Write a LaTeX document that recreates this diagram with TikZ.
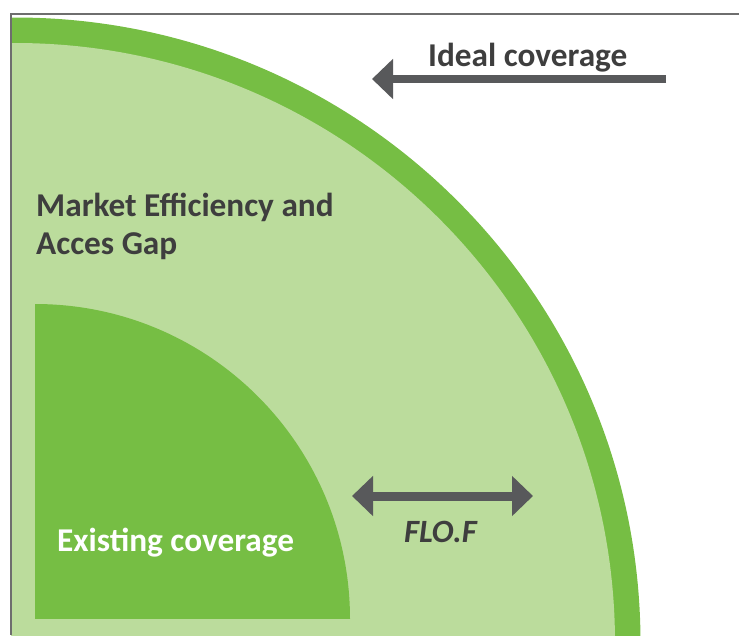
\documentclass[tikz,border=0pt]{standalone}
\usepackage{fontspec}
\newfontfamily\cf{Carlito}
\usetikzlibrary{arrows.meta}
\definecolor{dkgreen}{RGB}{118,190,68}
\definecolor{ltgreen}{RGB}{187,220,156}
\definecolor{arrowgray}{RGB}{88,89,91}
\definecolor{txtgray}{RGB}{62,62,62}
\definecolor{framegray}{RGB}{110,110,110}
\tikzset{
  lbl/.style={anchor=base west, inner sep=0pt, font=\cf\bfseries\fontsize{33.3}{38}\selectfont, text=txtgray},
  blockarrow/.style={draw=arrowgray, line width=7.5pt, -{Triangle[width=39pt,length=21pt]}},
  dblarrow/.style={draw=arrowgray, line width=9pt, {Triangle[width=39pt,length=21pt]}-{Triangle[width=39pt,length=21pt]}}
}
\begin{document}
\begin{tikzpicture}[x=1pt,y=-1pt]
\useasboundingbox (0,0) rectangle (739,635);
\begin{scope}
  \clip (11,14) rectangle (739,635);
  \fill[dkgreen] (15,643) circle[radius=625.5pt];
  \fill[ltgreen] (15,643) circle[radius=600pt];
\end{scope}
\begin{scope}
  \clip (35,300) rectangle (350.5,618.5);
  \fill[dkgreen] (35,619) circle[radius=315pt];
\end{scope}
\draw[framegray, line width=1.5pt] (11,635) -- (11,14) -- (739,14);
\coordinate (ia) at (666,79);
\coordinate (ib) at (372,79);
\draw[blockarrow] (ia) -- (ib);
\coordinate (fa) at (352,496);
\coordinate (fb) at (533,496);
\draw[dblarrow] (fa) -- (fb);
\node[lbl] (ideal) at (428,66) {Ideal coverage};
\node[lbl] (gap1) at (36,216) {Market Efficiency and};
\node[lbl] (gap2) at (36,254) {Acces Gap};
\node[lbl, text=white] (exist) at (57,551) {Existing coverage};
\node[lbl, font=\cf\bfseries\itshape\fontsize{32.5}{36}\selectfont] (flof) at (404,542) {FLO.F};
\end{tikzpicture}
\end{document}
